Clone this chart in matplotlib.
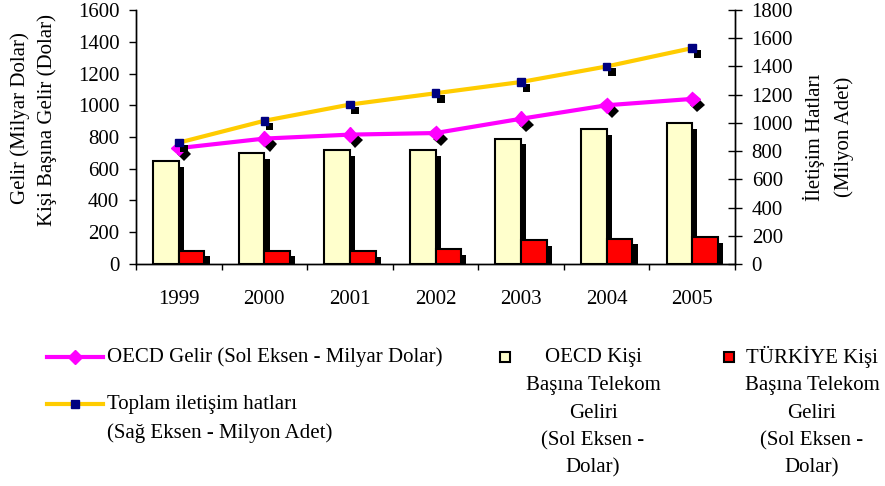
import matplotlib
matplotlib.use("Agg")
import matplotlib.pyplot as plt
import matplotlib.patheffects as pe
from matplotlib.lines import Line2D
from matplotlib.patches import Rectangle
import numpy as np

plt.rcParams['font.family'] = ['Liberation Serif', 'DejaVu Serif']
plt.rcParams['font.size'] = 15

years = ['1999', '2000', '2001', '2002', '2003', '2004', '2005']
oecd_kisi = [650, 700, 715, 720, 790, 850, 890]       # sol eksen, dolar
turkiye_kisi = [85, 85, 80, 95, 150, 160, 170]        # sol eksen, dolar
oecd_gelir = [730, 790, 815, 825, 915, 1000, 1040]    # sol eksen, milyar dolar
toplam_hat = [860, 1015, 1130, 1210, 1290, 1400, 1530]  # sag eksen, milyon adet

fig = plt.figure(figsize=(8.85, 4.86), dpi=100)
ax = fig.add_axes([0.1537, 0.4568, 0.6768, 0.5226])
ax2 = ax.twinx()

x = np.arange(len(years))
w = 0.3
shadow = [pe.SimplePatchShadow(offset=(3.8, -4.2), shadow_rgbFace='black', alpha=1), pe.Normal()]

ax.bar(x - w / 2, oecd_kisi, w, color='#FFFFCC', edgecolor='black', linewidth=1.5,
       path_effects=shadow, zorder=2)
ax.bar(x + w / 2, turkiye_kisi, w, color='#FF0000', edgecolor='black', linewidth=1.5,
       path_effects=shadow, zorder=3)

# OECD gelir cizgisi
ax.plot(x, oecd_gelir, color='#FF00FF', lw=3, zorder=4)
ax.plot(x, oecd_gelir, ls='none', marker='D', ms=7.5, color='#FF00FF', mec='#FF00FF',
        path_effects=shadow, zorder=5)

# toplam hatlar cizgisi (sag eksen)
ax2.plot(x, toplam_hat, color='#FFCC00', lw=3, zorder=4)
ax2.plot(x, toplam_hat, ls='none', marker='s', ms=5.5, color='#000080', mec='#000080',
         path_effects=shadow, zorder=5)

ax.set_xlim(-0.5, len(years) - 0.5)
ax.set_ylim(0, 1600)
ax.set_yticks(range(0, 1601, 200))
ax2.set_ylim(0, 1800)
ax2.set_yticks(range(0, 1801, 200))

ax.set_xticks(x)
ax.set_xticklabels(years)
ax.set_xticks(np.arange(-0.5, len(years)), minor=True)
ax.tick_params(axis='x', which='major', length=0, pad=19)
ax.tick_params(axis='x', which='minor', length=4.5, width=1, direction='out')
ax.tick_params(axis='y', length=5, width=1, direction='out', pad=7)
ax2.tick_params(axis='y', length=10, width=1, direction='inout', pad=7)

for a in (ax, ax2):
    a.spines['top'].set_visible(False)
    for s in a.spines.values():
        s.set_linewidth(1)

fig.text(20 / 885, 1 - 118 / 486, 'Gelir (Milyar Dolar)', rotation=90, ha='center', va='center')
fig.text(47 / 885, 1 - 120 / 486, 'Kişi Başına Gelir (Dolar)', rotation=90, ha='center', va='center')
fig.text(814 / 885, 1 - 137 / 486, 'İletişim Hatları', rotation=90, ha='center', va='center')
fig.text(844 / 885, 1 - 137 / 486, '(Milyon Adet)', rotation=90, ha='center', va='center')

# lejant (elle yerlestirildi)
def fx(px):
    return px / 885

def fy(py):
    return 1 - py / 486

fig.add_artist(Line2D([fx(47), fx(103)], [fy(357), fy(357)], color='#FF00FF', lw=3,
                      transform=fig.transFigure))
fig.add_artist(Line2D([fx(75)], [fy(357)], marker='D', ms=7.5, color='#FF00FF',
                      transform=fig.transFigure))
fig.text(fx(107), fy(357), 'OECD Gelir (Sol Eksen - Milyar Dolar)', va='center')

fig.add_artist(Line2D([fx(47), fx(103)], [fy(404), fy(404)], color='#FFCC00', lw=3,
                      transform=fig.transFigure))
fig.add_artist(Line2D([fx(75)], [fy(404)], marker='s', ms=5.5, color='#000080',
                      transform=fig.transFigure))
fig.text(fx(107), fy(404), 'Toplam iletişim hatları', va='center')
fig.text(fx(107), fy(433), '(Sağ Eksen - Milyon Adet)', va='center')

lines_oecd = ['OECD Kişi', 'Başına Telekom', 'Geliri', '(Sol Eksen -', 'Dolar)']
lines_tr = ['TÜRKİYE Kişi', 'Başına Telekom', 'Geliri', '(Sol Eksen -', 'Dolar)']
ys = [357, 385, 413, 441, 468]

fig.add_artist(Rectangle((fx(500), fy(362)), fx(10), 10 / 486, facecolor='#FFFFCC',
                         edgecolor='black', lw=1.5, transform=fig.transFigure))
for t, yy in zip(lines_oecd, ys):
    fig.text(fx(593), fy(yy), t, ha='center', va='center')

fig.add_artist(Rectangle((fx(724), fy(362)), fx(10), 10 / 486, facecolor='#FF0000',
                         edgecolor='black', lw=1.5, transform=fig.transFigure))
for t, yy in zip(lines_tr, ys):
    fig.text(fx(812), fy(yy), t, ha='center', va='center')

fig.savefig('out.png', dpi=100)
